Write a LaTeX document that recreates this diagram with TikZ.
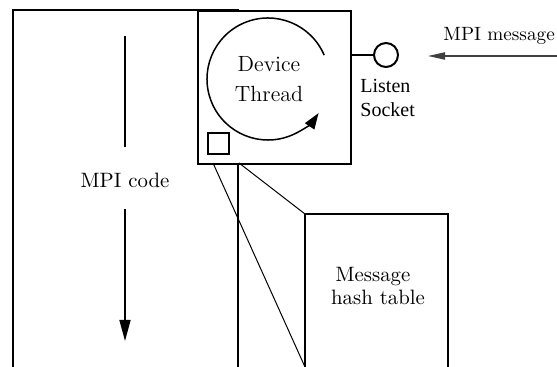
\documentclass[tikz,border=0pt]{standalone}
\usepackage{fontspec}
\newfontfamily\timesf{Liberation Serif}
\usetikzlibrary{arrows.meta}
\begin{document}
\begin{tikzpicture}[x=0.5pt,y=-0.5pt,
  boxline/.style={line width=1pt},
  thinline/.style={line width=0.5pt},
  lbl/.style={inner sep=0pt, anchor=base},
  bigarrow/.style={line width=0.8pt, -{Triangle[length=10.5pt,width=5.5pt]}},
  msgarrow/.style={line width=0.7pt, draw=black!75, -{Triangle[length=8.5pt,width=3.6pt]}},
  looparrow/.style={line width=0.75pt, -{Triangle[length=8pt,width=5.5pt]}},
  cmtext/.style={font=\fontsize{10.4}{12}\selectfont},
  devtext/.style={font=\fontsize{11}{13}\selectfont},
  smalltext/.style={font=\fontsize{9.6}{11}\selectfont},
  sockettext/.style={font=\timesf\fontsize{10}{12}\selectfont}]
\useasboundingbox (0,0) rectangle (557,367);
% outer MPI code box
\coordinate (oBL) at (13,367);
\coordinate (oTL) at (13,10);
\coordinate (oTR) at (238,10);
\coordinate (oBR) at (238,367);
\draw[boxline] (oBL) -- (oTL) -- (oTR) -- (oBR);
% device box
\node[draw, fill=white, boxline, minimum width=76.5pt, minimum height=76.5pt,
      inner sep=0pt, anchor=north west] (dev) at (197,10) {};
\node[lbl, devtext] (devA) at (269,72) {Device};
\node[lbl, devtext] (devB) at (269,102) {Thread};
% loop arrow
\coordinate (loopc) at (268,79);
\draw[looparrow] ([shift={(23:30.5pt)}]loopc) arc[start angle=23, end angle=326, radius=30.5pt];
% small square
\node[draw, boxline, minimum size=10.5pt, inner sep=0pt, anchor=north west] (sq) at (207,132) {};
% listen socket
\node[draw, circle, boxline, minimum size=12pt, inner sep=0pt] (sock) at (386,55) {};
\coordinate (devR) at (350,55);
\draw[boxline] (devR) -- (sock.west);
\node[lbl, sockettext, anchor=base west] (lis) at (360,93) {Listen};
\node[lbl, sockettext, anchor=base west] (soc) at (360,117) {Socket};
% MPI message
\coordinate (msgstart) at (557,56);
\coordinate (msgend) at (428,56);
\draw[msgarrow] (msgstart) -- (msgend);
\node[lbl, smalltext, anchor=base west] (msg) at (443,41) {MPI message};
% MPI code
\node[lbl, cmtext] (code) at (125,188) {MPI code};
\coordinate (codeT1) at (125,36);
\coordinate (codeT2) at (125,147);
\coordinate (codeB1) at (125,209);
\coordinate (codeB2) at (125,341);
\draw[line width=0.8pt] (codeT1) -- (codeT2);
\draw[bigarrow] (codeB1) -- (codeB2);
% hash table
\coordinate (hBL) at (305,367);
\coordinate (hTL) at (305,214);
\coordinate (hTR) at (448,214);
\coordinate (hBR) at (448,367);
\draw[boxline] (hBL) -- (hTL) -- (hTR) -- (hBR);
\node[lbl, cmtext] (hA) at (373,282) {Message};
\node[lbl, cmtext] (hB) at (378,305) {hash table};
% zoom lines
\coordinate (z1) at (213,163);
\coordinate (z2) at (239,163);
\draw[thinline] (z1) -- (hBL);
\draw[thinline] (z2) -- (hTL);
\end{tikzpicture}
\end{document}
